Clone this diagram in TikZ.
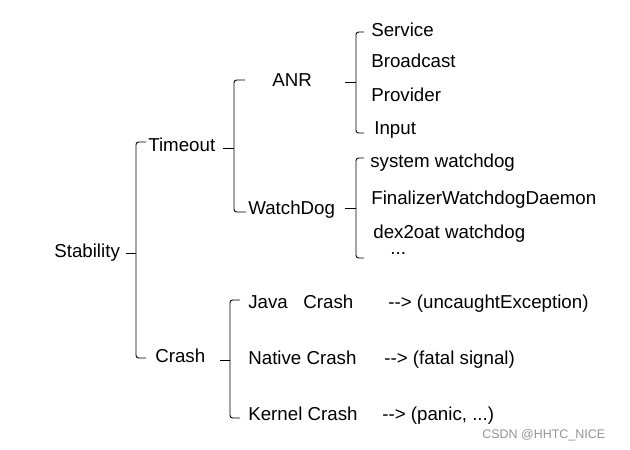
\documentclass[tikz,border=0pt]{standalone}
\usepackage{fontspec}
\setmainfont{Liberation Sans}
\begin{document}
\begin{tikzpicture}[x=0.02cm,y=-0.02cm,
    label/.style={anchor=west,inner sep=0pt,text height=7.5pt,text depth=0pt,font=\fontsize{10.65}{12}\selectfont},
    brace/.style={rounded corners=1.5pt,line width=0.55pt}]
    \useasboundingbox (0,0) rectangle (630,450);

    \node(Stab) at (54,251)[label]{Stability};
    \node(Tout) at (148,145)[label]{Timeout};
    \node(Crash) at (155,356)[label]{Crash};
    \coordinate(S1) at (136,253);
    \draw [brace] (146,142) -| (S1) |- (146,358);
    \draw [brace] (S1) -- ++(-10,0);

    % timeout branch
    \node(ANR) at (272,80)[label]{ANR};
    \node(WD) at (248,208)[label]{WatchDog};
    \coordinate(S2) at (234,148);
    \draw [brace] (245,80) -| (S2) |- (246,212);
    \draw [brace] (S2) -- ++(-11,0);

    \node(Svc) at (371,30)[label]{Service};
    \node(Brd) at (371,61)[label]{Broadcast};
    \node(Prv) at (371,95)[label]{Provider};
    \node(Inp) at (374,128)[label]{Input};
    \coordinate(S3) at (356,82);
    \draw [brace] (364,32) -| (S3) |- (364,133);
    \draw [brace] (S3) -- ++(-11,0);

    \node(SysWD) at (370,161)[label]{system watchdog};
    \node(FinWD) at (371,198)[label]{FinalizerWatchdogDaemon};
    \node(DexWD) at (373,232)[label]{dex2oat watchdog};
    \node(More) at (390,248)[label]{...};
    \coordinate(S4) at (356,208);
    \draw [brace] (364,158) -| (S4) |- (364,258);
    \draw [brace] (S4) -- ++(-11,0);

    % crash branch
    \node(Java) at (248,302)[label]{Java\ \ \ Crash};
    \node(Native) at (248,358)[label]{Native Crash};
    \node(Kernel) at (248,414)[label]{Kernel Crash};
    \node(JavaR) at (388,302)[label]{-{}-{}> (uncaughtException)};
    \node(NativeR) at (384,358)[label]{-{}-{}> (fatal signal)};
    \node(KernelR) at (382,414)[label]{-{}-{}> (panic, ...)};
    \coordinate(S5) at (230,360);
    \draw [brace] (240,300) -| (S5) |- (240,418);
    \draw [brace] (S5) -- ++(-10,0);

    \node(Mark) at (482,434)[label,text height=5pt,font=\fontsize{7.1}{8}\selectfont,text=black!42]{CSDN @HHTC\_NICE};
\end{tikzpicture}
\end{document}
